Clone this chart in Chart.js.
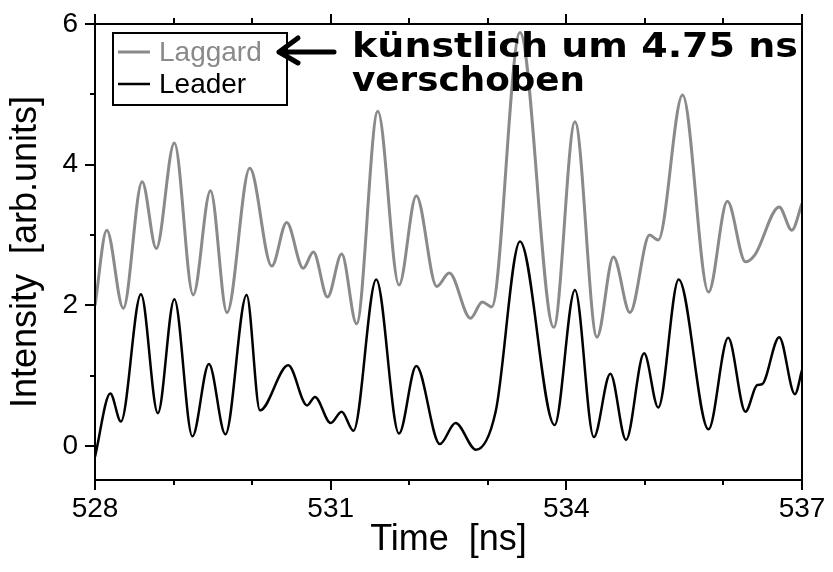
<!DOCTYPE html>
<html>
<head>
<meta charset="utf-8">
<script src="https://cdn.jsdelivr.net/npm/chart.js@4.4.1/dist/chart.umd.min.js"></script>
<style>
  html, body { margin: 0; padding: 0; background: #fff; }
</style>
</head>
<body>
<canvas id="Chart" width="833" height="572"></canvas>
<script>
// Zeitachse und Werte
let leaderTime = [528.00, 528.195, 528.33, 528.585, 528.80, 529.01, 529.24, 529.45, 529.66, 529.93,
  530.10, 530.46, 530.70, 530.80, 531.00, 531.14, 531.29, 531.58, 531.87, 532.09,
  532.39, 532.59, 532.85, 533.10, 533.41, 533.85, 534.11, 534.35, 534.56, 534.76,
  534.99, 535.17, 535.43, 535.81, 536.06, 536.28, 536.43, 536.49, 536.71, 536.91, 537.00];
let leaderIntensity = [-0.15, 0.75, 0.35, 2.16, 0.47, 2.09, 0.14, 1.17, 0.17, 2.15,
  0.51, 1.15, 0.58, 0.70, 0.33, 0.49, 0.22, 2.37, 0.18, 1.14,
  0.03, 0.33, -0.05, 0.49, 2.91, 0.30, 2.22, 0.13, 1.03, 0.09,
  1.32, 0.55, 2.37, 0.24, 1.54, 0.49, 0.87, 0.88, 1.55, 0.74, 1.08];

let laggardTime = [528.00, 528.15, 528.36, 528.60, 528.78, 529.01, 529.25, 529.47, 529.68, 529.97,
  530.25, 530.44, 530.65, 530.78, 530.96, 531.14, 531.33, 531.60, 531.87, 532.09,
  532.35, 532.51, 532.78, 532.93, 533.05, 533.41, 533.84, 534.11, 534.39, 534.60,
  534.81, 535.06, 535.17, 535.48, 535.81, 536.05, 536.28, 536.40, 536.71, 536.87, 537.00];
let laggardIntensity = [2.00, 3.07, 1.96, 3.76, 2.81, 4.31, 2.15, 3.63, 1.90, 3.95,
  2.56, 3.18, 2.53, 2.76, 2.12, 2.73, 1.74, 4.76, 2.29, 3.56,
  2.27, 2.46, 1.82, 2.05, 1.98, 5.88, 1.69, 4.61, 1.55, 2.69,
  1.90, 3.00, 2.93, 4.99, 2.19, 3.48, 2.62, 2.72, 3.40, 3.07, 3.45];

// Achsen
let xTicks = [528, 529, 530, 531, 532, 533, 534, 535, 536, 537];
let xLabels = [528, 531, 534, 537];
let yTicks = [0, 1, 2, 3, 4, 5, 6];
let yLabels = [0, 2, 4, 6];

let seriesNames = ['Laggard', 'Leader'];
let seriesColors = ['#8a8a8a', '#000000'];

let font = "'Liberation Sans', Arial, sans-serif";

function toPoints(t, v) {
  return t.map((x, i) => ({ x: x, y: v[i] }));
}

// Rahmen, Ticks, Legende und Notiz
let decorPlugin = {
  id: 'decor',
  afterDraw(chart) {
    let ctx = chart.ctx;
    let a = chart.chartArea;
    let xs = chart.scales.x, ys = chart.scales.y;
    ctx.save();
    ctx.strokeStyle = '#000';
    ctx.lineWidth = 2;
    ctx.strokeRect(a.left, a.top, a.right - a.left, a.bottom - a.top);
    ctx.beginPath();
    xTicks.forEach(v => {
      let px = Math.round(xs.getPixelForValue(v));
      let major = xLabels.includes(v);
      ctx.moveTo(px, a.bottom); ctx.lineTo(px, a.bottom + (major ? 10 : 5));
      ctx.moveTo(px, a.top); ctx.lineTo(px, a.top - (major ? 10 : 6));
    });
    yTicks.forEach(v => {
      let py = Math.round(ys.getPixelForValue(v));
      let major = yLabels.includes(v);
      ctx.moveTo(a.left, py); ctx.lineTo(a.left - (major ? 10 : 5), py);
    });
    ctx.stroke();

    // Legende
    let lx = 113, ly = 33, lw = 174, lh = 72;
    ctx.fillStyle = '#fff';
    ctx.fillRect(lx, ly, lw, lh);
    ctx.strokeRect(lx, ly, lw, lh);
    ctx.font = '28px ' + font;
    ctx.textBaseline = 'middle';
    ctx.textAlign = 'left';
    chart.data.datasets.forEach((ds, i) => {
      let yy = 52 + i * 32;
      ctx.strokeStyle = ds.borderColor;
      ctx.lineWidth = ds.borderWidth;
      ctx.beginPath();
      ctx.moveTo(118, yy); ctx.lineTo(150, yy);
      ctx.stroke();
      ctx.fillStyle = ds.borderColor;
      ctx.fillText(ds.label, 159, yy + 1);
    });

    // handschriftliche Notiz
    ctx.strokeStyle = '#000';
    ctx.fillStyle = '#000';
    ctx.lineWidth = 5;
    ctx.lineCap = 'round';
    ctx.lineJoin = 'round';
    ctx.beginPath();
    ctx.moveTo(334, 52); ctx.lineTo(279, 52);
    ctx.moveTo(298, 38); ctx.lineTo(279, 52); ctx.lineTo(298, 63);
    ctx.stroke();
    ctx.font = "bold 34px 'DejaVu Sans'";
    ctx.textBaseline = 'alphabetic';
    function hand(str, x, y, w) {
      let m = ctx.measureText(str).width;
      ctx.save();
      ctx.translate(x, y);
      ctx.scale(w / m, 1);
      ctx.fillText(str, 0, 0);
      ctx.restore();
    }
    hand('künstlich um 4.75 ns', 352, 57, 446);
    hand('verschoben', 352, 91, 233);
    ctx.restore();
  }
};

let lineCtx = document.getElementById('Chart');
let lineConfig = {
  type: 'line',
  data: {
    datasets: [{
      label: seriesNames[0],
      data: toPoints(laggardTime, laggardIntensity),
      borderColor: seriesColors[0],
      borderWidth: 3,
    }, {
      label: seriesNames[1],
      data: toPoints(leaderTime, leaderIntensity),
      borderColor: seriesColors[1],
      borderWidth: 2.5,
    }],
  },
  options: {
    responsive: false,
    animation: false,
    layout: { padding: { top: 24, right: 31, left: 0, bottom: 0 } },
    elements: { point: { radius: 0 }, line: { cubicInterpolationMode: 'monotone' } },
    plugins: { legend: { display: false }, tooltip: { enabled: false } },
    scales: {
      x: {
        type: 'linear',
        min: 528,
        max: 537,
        afterBuildTicks: s => { s.ticks = xTicks.map(v => ({ value: v })); },
        afterFit: s => { s.height = 92; s.paddingLeft = 0; s.paddingRight = 0; },
        grid: { drawOnChartArea: false, drawTicks: false },
        border: { display: false },
        ticks: {
          font: { family: font, size: 28 },
          color: '#000',
          padding: 12,
          maxRotation: 0,
          autoSkip: false,
          callback: v => xLabels.includes(v) ? String(v) : '',
        },
        title: {
          display: true,
          text: 'Time  [ns]',
          color: '#000',
          font: { family: font, size: 36 },
          padding: { top: 0, bottom: 10 },
        },
      },
      y: {
        type: 'linear',
        min: -0.48,
        max: 6,
        afterBuildTicks: s => { s.ticks = yTicks.map(v => ({ value: v })); },
        afterFit: s => { s.width = 95; s.paddingTop = 0; s.paddingBottom = 0; },
        grid: { drawOnChartArea: false, drawTicks: false },
        border: { display: false },
        ticks: {
          font: { family: font, size: 28 },
          color: '#000',
          padding: 17,
          autoSkip: false,
          callback: v => yLabels.includes(v) ? String(v) : '',
        },
        title: {
          display: true,
          text: 'Intensity  [arb.units]',
          color: '#000',
          font: { family: font, size: 36 },
          padding: { top: 4, bottom: 0 },
        },
      },
    },
  },
  plugins: [decorPlugin],
};
let lineChart = new Chart(lineCtx, lineConfig);
</script>
</body>
</html>
